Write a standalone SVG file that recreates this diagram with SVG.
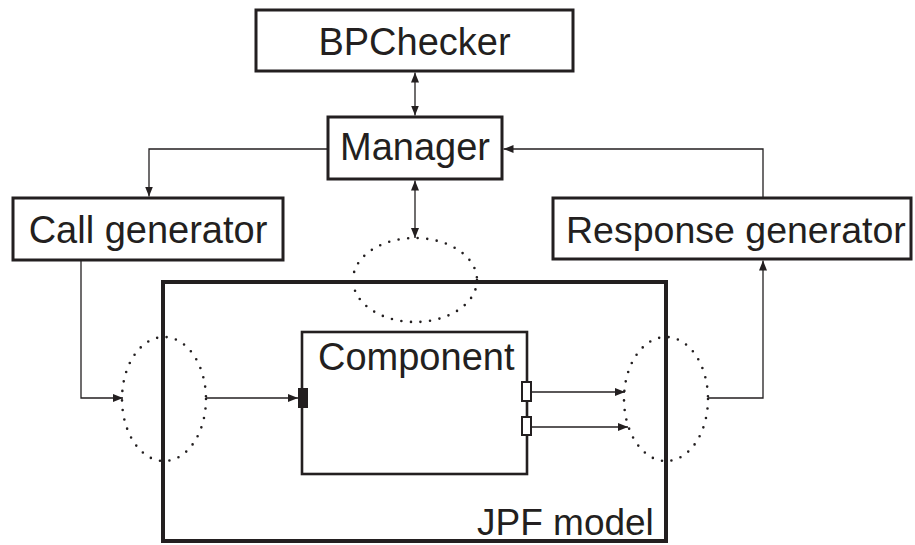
<svg xmlns="http://www.w3.org/2000/svg" width="915" height="545" viewBox="0 0 915 545">
<style>
.box{fill:#fff;stroke:#231f20;stroke-width:3}
.lbl{font-family:"Liberation Sans",Arial,sans-serif;font-size:38px;fill:#231f20}
.con{fill:none;stroke:#231f20;stroke-width:1.3}
.dot{fill:none;stroke:#231f20;stroke-width:2.6;stroke-linecap:round;stroke-dasharray:0 9.6}
</style>
<defs>
<marker id="ah" viewBox="0 0 10 8" refX="10" refY="4" markerWidth="10" markerHeight="8" markerUnits="userSpaceOnUse" orient="auto-start-reverse">
<path d="M0,0 L10,4 L0,8 Z" fill="#231f20"/>
</marker>
</defs>
<rect width="915" height="545" fill="#fff"/>
<g id="jpf">
<rect x="163" y="282" width="503" height="259" fill="none" stroke="#231f20" stroke-width="4"/>
<text class="lbl" x="477" y="535" style="font-size:37px">JPF model</text>
</g>
<g id="bpchecker">
<rect class="box" x="256" y="10" width="317" height="61"/>
<text class="lbl" x="414.5" y="55" text-anchor="middle">BPChecker</text>
</g>
<g id="manager">
<rect class="box" x="328" y="117" width="174" height="62"/>
<text class="lbl" x="415" y="160" text-anchor="middle">Manager</text>
</g>
<g id="callgen">
<rect class="box" x="13" y="198" width="270" height="62"/>
<text class="lbl" x="148" y="243" text-anchor="middle">Call generator</text>
</g>
<g id="respgen">
<rect class="box" x="553" y="198" width="358" height="61"/>
<text class="lbl" x="566" y="243" style="font-size:37.5px">Response generator</text>
</g>
<g id="component">
<rect x="302" y="332" width="225" height="142" fill="#fff" stroke="#231f20" stroke-width="2.6"/>
<text class="lbl" x="318" y="370">Component</text>
<rect x="298" y="388" width="10" height="20" fill="#231f20"/>
<rect x="522" y="382" width="9" height="19" fill="#fff" stroke="#231f20" stroke-width="2"/>
<rect x="522" y="417" width="9" height="18" fill="#fff" stroke="#231f20" stroke-width="2"/>
</g>
<g id="ellipse-top"><ellipse class="dot" cx="415" cy="280" rx="62" ry="42"/></g>
<g id="ellipse-left"><ellipse class="dot" cx="164" cy="399" rx="42" ry="62"/></g>
<g id="ellipse-right"><ellipse class="dot" cx="666" cy="399" rx="42" ry="62"/></g>
<g id="connectors">
<path class="con" d="M415,72.5 V115.5" marker-start="url(#ah)" marker-end="url(#ah)"/>
<path class="con" d="M328,149 H149 V196.5" marker-end="url(#ah)"/>
<path class="con" d="M415,180.5 V238" marker-start="url(#ah)" marker-end="url(#ah)"/>
<path class="con" d="M763,198 V149 H503.5" marker-end="url(#ah)"/>
<path class="con" d="M81,261 V398 H123" marker-end="url(#ah)"/>
<path class="con" d="M206,398 H298" marker-end="url(#ah)"/>
<path class="con" d="M531,392 H625" marker-end="url(#ah)"/>
<path class="con" d="M531,427 H628" marker-end="url(#ah)"/>
<path class="con" d="M708,398 H763 V260.5" marker-end="url(#ah)"/>
</g>
</svg>
